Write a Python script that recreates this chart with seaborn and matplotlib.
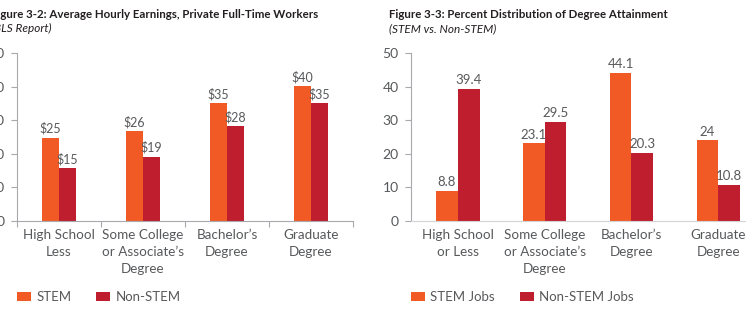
import numpy as np
import pandas as pd
import matplotlib
matplotlib.use("Agg")
import matplotlib.pyplot as plt
import seaborn as sb
from matplotlib.ticker import FixedLocator

# figure 3-2 data
levels_wage = ["High School\nLess", "Some College\nor Associate\u2019s\nDegree",
               "Bachelor\u2019s\nDegree", "Graduate\nDegree"]
stem_wage = [24.8, 26.7, 35.1, 40.2]
nonstem_wage = [15.6, 19.1, 28.3, 35.1]
stem_wage_lbl = ["$25", "$26", "$35", "$40"]
nonstem_wage_lbl = ["$15", "$19", "$28", "$35"]

# figure 3-3 data
levels_deg = ["High School\nor Less", "Some College\nor Associate\u2019s\nDegree",
              "Bachelor\u2019s\nDegree", "Graduate\nDegree"]
stem_share = [8.8, 23.1, 44.1, 24]
nonstem_share = [39.4, 29.5, 20.3, 10.8]

ORANGE = "#f15a24"
RED = "#be1e2d"
GREY = "#58595b"
AXC = "#a7a9ac"

sb.set_theme(style="white")
plt.rcParams["font.family"] = ["Lato", "DejaVu Sans"]
plt.rcParams["font.size"] = 9

W, H = 746, 311
fig = plt.figure(figsize=(W / 100, H / 100), dpi=100)

def px_axes(x0, y0, x1, y1):
    return fig.add_axes([x0 / W, 1 - y1 / H, (x1 - x0) / W, (y1 - y0) / H])

ax1 = px_axes(17, 53.3, 353, 220.7)
ax2 = px_axes(411, 53.3, 746, 220.7)

df1 = pd.DataFrame({
    "level": levels_wage * 2,
    "value": stem_wage + nonstem_wage,
    "group": ["STEM"] * 4 + ["Non-STEM"] * 4,
})
df2 = pd.DataFrame({
    "level": levels_deg * 2,
    "value": stem_share + nonstem_share,
    "group": ["STEM Jobs"] * 4 + ["Non-STEM Jobs"] * 4,
})

sb.barplot(data=df1, x="level", y="value", hue="group", order=levels_wage,
           hue_order=["STEM", "Non-STEM"], palette=[ORANGE, RED],
           width=0.4, gap=0, linewidth=0, saturation=1, ax=ax1)
sb.barplot(data=df2, x="level", y="value", hue="group", order=levels_deg,
           hue_order=["STEM Jobs", "Non-STEM Jobs"], palette=[ORANGE, RED],
           width=0.5, gap=0, linewidth=0, saturation=1, ax=ax2)

ax1.bar_label(ax1.containers[0], labels=stem_wage_lbl, padding=2, color=GREY, fontsize=9)
ax1.bar_label(ax1.containers[1], labels=nonstem_wage_lbl, padding=2, color=GREY, fontsize=9)
for c in ax2.containers:
    ax2.bar_label(c, fmt="{:g}", padding=2, color=GREY, fontsize=9.5)

ax1.set_xlim(-0.5, 3.5)
ax2.set_xlim(-0.54, 3.32)

for ax in (ax1, ax2):
    ax.set_ylim(0, 50)
    ax.set_yticks([0, 10, 20, 30, 40, 50])
    ax.set_xlabel("")
    ax.set_ylabel("")
    for s in ("top", "right"):
        ax.spines[s].set_visible(False)
    for s in ("left", "bottom"):
        ax.spines[s].set_color(AXC)
        ax.spines[s].set_linewidth(0.8)
    ax.tick_params(axis="y", left=True, length=4, width=0.8, color=AXC,
                   labelcolor=GREY, labelsize=10, pad=5)
    ax.tick_params(axis="x", which="major", bottom=False, length=0,
                   labelcolor=GREY, labelsize=9.7, pad=6)
    for t in ax.get_xticklabels():
        t.set_linespacing(1.5)
    ax.patch.set_alpha(0)

ax1.xaxis.set_minor_locator(FixedLocator([-0.5, 0.5, 1.5, 2.5, 3.5]))
ax1.tick_params(axis="x", which="minor", bottom=True, length=4, width=0.8, color=AXC)
ax2.spines["bottom"].set_color("#d1d3d4")

for ax in (ax1, ax2):
    sb.move_legend(ax, loc="center left", bbox_to_anchor=(0, -0.456), ncol=2,
                   frameon=False, title=None, borderaxespad=0, borderpad=0,
                   handlelength=1.05, handleheight=0.6, handletextpad=0.4,
                   columnspacing=1.9, fontsize=9.5)
    for t in ax.get_legend().get_texts():
        t.set_color(GREY)

# titles
fig.text(-9 / W, 1 - 18 / H, "Figure 3-2: Average Hourly Earnings, Private Full-Time Workers",
         fontsize=8.3, fontweight="bold", color="#231f20", ha="left", va="baseline")
fig.text(-9 / W, 1 - 32 / H, "(BLS Report)", fontsize=8.5, style="italic",
         color="#231f20", ha="left", va="baseline")
fig.text(389 / W, 1 - 18 / H, "Figure 3-3: Percent Distribution of Degree Attainment",
         fontsize=8.3, fontweight="bold", color="#231f20", ha="left", va="baseline")
fig.text(389 / W, 1 - 32 / H, "(STEM vs. Non-STEM)", fontsize=8.5, style="italic",
         color="#231f20", ha="left", va="baseline")

plt.savefig("out.png", dpi=100)
